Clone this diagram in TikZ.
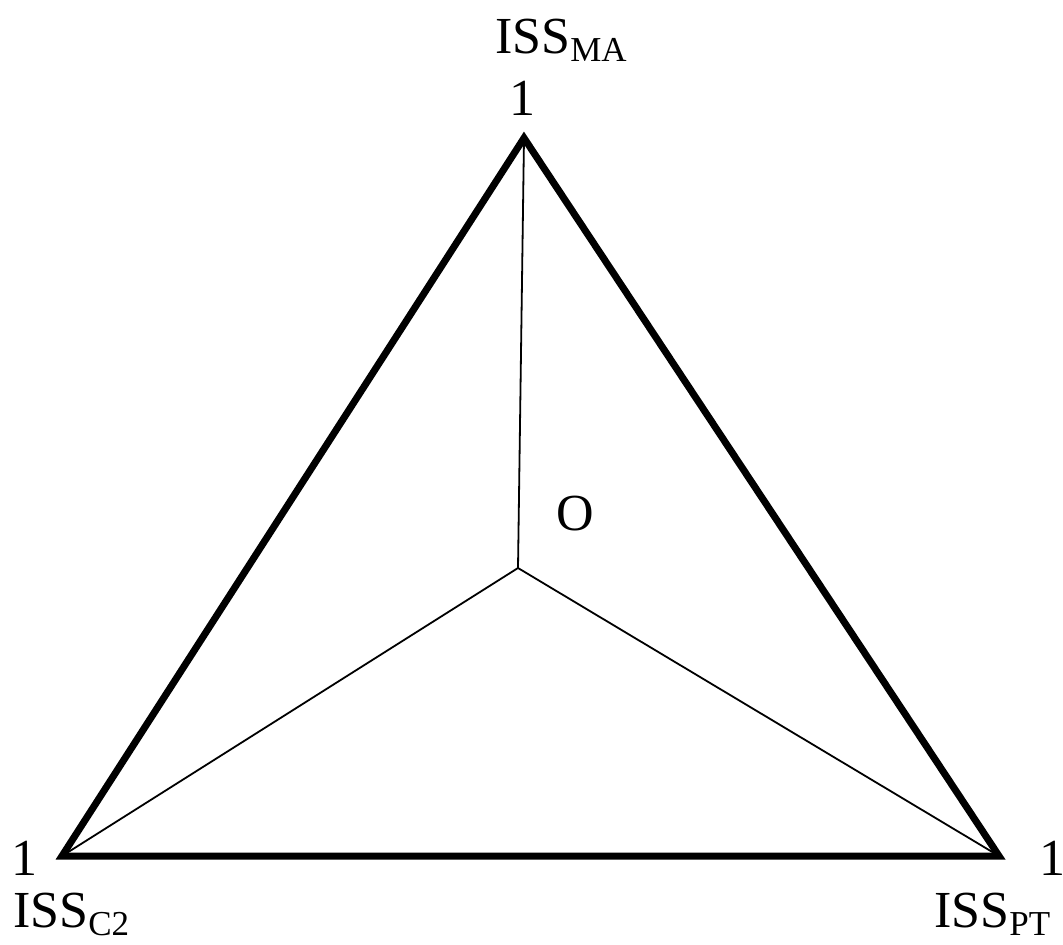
\documentclass[tikz,border=0pt]{standalone}
\usepackage{fontspec}
\setmainfont{Liberation Serif}
\newcommand\mysubtxt[1]{\raisebox{-8pt}{\fontsize{35}{35}\selectfont #1}}
\begin{document}
\begin{tikzpicture}[x=1pt,y=-1pt,
  lbl/.style={inner sep=0pt, font=\fontsize{52}{52}\selectfont},
  thickedge/.style={line width=7pt, line join=miter},
  thinedge/.style={line width=1.8pt}]
\useasboundingbox (0,0) rectangle (1063,945);
\coordinate (A) at (524,138);
\coordinate (B) at (62,856);
\coordinate (C) at (999,856);
\coordinate (O) at (518,568);
\draw[thinedge] (O) -- (A);
\draw[thinedge] (O) -- (B);
\draw[thinedge] (O) -- (C);
\draw[thickedge] (A) -- (B) -- (C) -- cycle;
\node[lbl, anchor=base west] (tma) at (495,53) {ISS\mysubtxt{MA}};
\node[lbl, anchor=base] (one1) at (522,115) {1};
\node[lbl, anchor=base] (one2) at (24,875) {1};
\node[lbl, anchor=base west] (tc2) at (13,927) {ISS\mysubtxt{C2}};
\node[lbl, anchor=base] (one3) at (1052,875) {1};
\node[lbl, anchor=base west] (tpt) at (934,927) {ISS\mysubtxt{PT}};
\node[lbl, anchor=base] (olab) at (575,530) {O};
\end{tikzpicture}
\end{document}
